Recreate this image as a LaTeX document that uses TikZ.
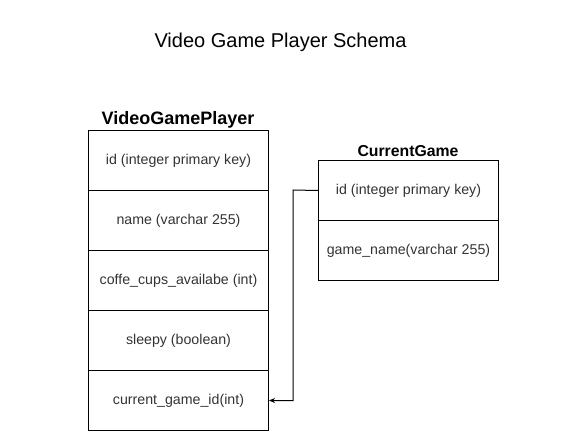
\documentclass[tikz,border=0pt]{standalone}
\usepackage{fontspec}
\setmainfont{Liberation Sans}
\usetikzlibrary{arrows.meta}
\begin{document}
\begin{tikzpicture}[x=1pt,y=-1pt,
  cell/.style={draw=black,line width=1pt,minimum width=180pt,minimum height=60pt,inner sep=0pt,anchor=north west,text=black!80,font=\fontsize{14.2}{17}\selectfont},
  hdr/.style={font=\bfseries\fontsize{18}{21}\selectfont},
  link/.style={draw=black,line width=1pt,-{Stealth[length=6pt,width=5pt]}}]
\useasboundingbox (0,0) rectangle (561,431);
\node (title) at (280.5,42) {\fontsize{20}{24}\selectfont Video Game Player Schema};
\node[hdr] (vgp) at (178,120) {VideoGamePlayer};
\node[cell] (r1) at (88,130) {id (integer primary key)};
\node[cell] (r2) at (88,190) {name (varchar 255)};
\node[cell] (r3) at (88,250) {coffe\_cups\_availabe (int)};
\node[cell] (r4) at (88,310) {sleepy (boolean)};
\node[cell] (r5) at (88,370) {current\_game\_id(int)};
\node[hdr,font=\bfseries\fontsize{15.8}{19}\selectfont] (cg) at (408,151) {CurrentGame};
\node[cell] (c1) at (318,160) {id (integer primary key)};
\node[cell] (c2) at (318,220) {game\_name(varchar 255)};
\coordinate (bend) at (293,190);
\draw[link] (c1.west) -- (bend) |- (r5.east);
\end{tikzpicture}
\end{document}
